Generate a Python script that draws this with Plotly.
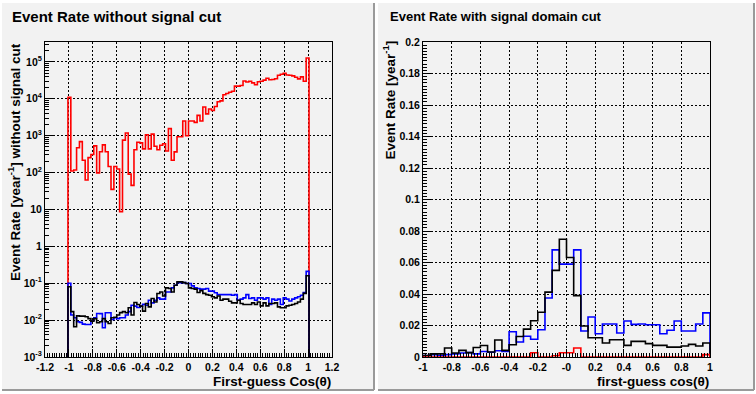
import numpy as np
import plotly.graph_objects as go

# ---------------- data ----------------
# Left panel: 100 bins on [-1.2, 1.2], width 0.024; non-zero bins are 8..91
LEFT_BIN0 = 8
LEFT_NBINS_TOTAL = 100
LEFT_XMIN, LEFT_XMAX = -1.2, 1.2

left_red = [11000, 110, 117, 470, 690, 215, 63, 254, 310, 530, 97, 366, 565, 366, 146, 35,
            146, 125, 8.7, 760, 1180, 91, 45, 414, 664, 637, 440, 1060, 440, 1100, 515, 417,
            550, 605, 385, 1550, 215, 365, 940, 940, 2500, 1000, 2500, 2500, 2300, 3560, 2500,
            6000, 3900, 5300, 4800, 6200, 8300, 8800, 12900, 13900, 15000, 16000, 22000, 22000,
            23000, 30500, 28500, 30000, 27000, 24000, 29000, 30000, 32000, 36000, 33000, 33500,
            35000, 43600, 46400, 49400, 44000, 43600, 41800, 38500, 34700, 39300, 30000, 128000]

left_blue = [0.1, 0.0137, 0.0116, 0.009, 0.0087, 0.0078, 0.0076, 0.0076, 0.0096, 0.0116,
             0.0151, 0.015, 0.0062, 0.0158, 0.0158, 0.0104, 0.0116, 0.011, 0.0116, 0.0116,
             0.0137, 0.017, 0.0254, 0.024, 0.022, 0.024, 0.027, 0.0254, 0.0347, 0.0294,
             0.0347, 0.040, 0.037, 0.037, 0.058, 0.058, 0.075, 0.088, 0.104, 0.104,
             0.104, 0.098, 0.098, 0.085, 0.075, 0.072, 0.069, 0.069, 0.072, 0.061,
             0.061, 0.055, 0.049, 0.049, 0.049, 0.049, 0.049, 0.047, 0.049, 0.0347,
             0.037, 0.040, 0.049, 0.0385, 0.040, 0.0347, 0.040, 0.040, 0.037, 0.040,
             0.0265, 0.037, 0.0347, 0.037, 0.0265, 0.040, 0.037, 0.033, 0.037, 0.040,
             0.043, 0.047, 0.056, 0.21]

left_black = [0.08, 0.017, 0.0066, 0.013, 0.0128, 0.0128, 0.0123, 0.011, 0.0094, 0.011,
              0.0085, 0.009, 0.011, 0.009, 0.0081, 0.0116, 0.012, 0.0137, 0.016, 0.017,
              0.0158, 0.0216, 0.0137, 0.030, 0.0265, 0.024, 0.0175, 0.0282, 0.0229, 0.0385,
              0.031, 0.0525, 0.058, 0.045, 0.075, 0.072, 0.058, 0.088, 0.109, 0.109,
              0.104, 0.098, 0.075, 0.072, 0.069, 0.056, 0.063, 0.053, 0.049, 0.047,
              0.043, 0.040, 0.045, 0.0347, 0.037, 0.037, 0.0326, 0.0294, 0.0294, 0.0347,
              0.0282, 0.0265, 0.0265, 0.0265, 0.0294, 0.0265, 0.031, 0.0244, 0.0294, 0.0244,
              0.0282, 0.0282, 0.0294, 0.0229, 0.0216, 0.0216, 0.0244, 0.0254, 0.0265, 0.0282,
              0.031, 0.037, 0.053, 0.16]

# Right panel: 40 bins on [-1, 1], width 0.05
RIGHT_XMIN, RIGHT_XMAX, RIGHT_NBINS = -1.0, 1.0, 40

right_black = [0.001, 0.002, 0.002, 0.0057, 0.0025, 0.0042, 0.0028, 0.006, 0.0073, 0.0032,
               0.0108, 0.0042, 0.0078, 0.013, 0.0177, 0.023, 0.0284, 0.0412, 0.055, 0.0748,
               0.0632, 0.039, 0.0197, 0.0122, 0.0122, 0.0089, 0.011, 0.011, 0.0074, 0.0099,
               0.0099, 0.0085, 0.0074, 0.0074, 0.0063, 0.0063, 0.007, 0.008, 0.007, 0.0089]

right_blue = [0.001, 0.0015, 0.001, 0.0015, 0.002, 0.0025, 0.0028, 0.002, 0.0035, 0.003,
              0.004, 0.0035, 0.016, 0.0095, 0.0132, 0.0113, 0.0173, 0.0375, 0.068, 0.059,
              0.059, 0.068, 0.0165, 0.0254, 0.0148, 0.021, 0.021, 0.0152, 0.0229, 0.0207,
              0.021, 0.0205, 0.0205, 0.0148, 0.017, 0.0229, 0.0165, 0.0165, 0.021, 0.028]

right_red = [0, 0, 0, 0, 0, 0, 0, 0, 0, 0,
             0, 0, 0, 0, 0, 0.0027, 0, 0, 0.0008, 0.0027,
             0.0027, 0.0057, 0, 0, 0, 0, 0, 0, 0, 0,
             0, 0, 0, 0, 0, 0, 0, 0, 0, 0.0015]

left_xticks = [-1.2, -1.0, -0.8, -0.6, -0.4, -0.2, 0.0, 0.2, 0.4, 0.6, 0.8, 1.0, 1.2]
left_xtick_text = ["-1.2", "-1", "-0.8", "-0.6", "-0.4", "-0.2", "0", "0.2", "0.4", "0.6", "0.8", "1", "1.2"]
left_yticks = [1e-3, 1e-2, 1e-1, 1, 10, 1e2, 1e3, 1e4, 1e5]
left_ytick_text = ["10<sup>-3</sup>", "10<sup>-2</sup>", "10<sup>-1</sup>", "1", "10",
                   "10<sup>2</sup>", "10<sup>3</sup>", "10<sup>4</sup>", "10<sup>5</sup>"]
right_xticks = [-1.0, -0.8, -0.6, -0.4, -0.2, 0.0, 0.2, 0.4, 0.6, 0.8, 1.0]
right_xtick_text = ["-1", "-0.8", "-0.6", "-0.4", "-0.2", "-0", "0.2", "0.4", "0.6", "0.8", "1"]
right_yticks = [0, 0.02, 0.04, 0.06, 0.08, 0.1, 0.12, 0.14, 0.16, 0.18, 0.2]
right_ytick_text = ["0", "0.02", "0.04", "0.06", "0.08", "0.1", "0.12", "0.14", "0.16", "0.18", "0.2"]

title_left = "Event Rate without signal cut"
title_right = "Event Rate with signal domain cut"
ytitle_left = "Event Rate [year<sup>-1</sup>] without signal cut"
ytitle_right = "Event Rate [year<sup>-1</sup>]"
xtitle_left = "First-guess Cos(θ)"
xtitle_right = "first-guess cos(θ)"

# ---------------- helpers ----------------
W, H = 756, 394
FONT = "Liberation Sans"
PAD_BG = "#f2f2f2"


def step_xy(edges, vals, floor):
    vals = np.asarray(vals, dtype=float)
    vals = np.where(vals > 0, vals, floor)
    x = [edges[0]] + list(edges)
    y = [floor] + list(vals) + [floor]
    return x, y


def bold(labels):
    return [f"<b>{t}</b>" for t in labels]


lw = (LEFT_XMAX - LEFT_XMIN) / LEFT_NBINS_TOTAL
left_edges = LEFT_XMIN + lw * np.arange(LEFT_BIN0, LEFT_BIN0 + len(left_red) + 1)
rw = (RIGHT_XMAX - RIGHT_XMIN) / RIGHT_NBINS
right_edges = RIGHT_XMIN + rw * np.arange(RIGHT_NBINS + 1)

fig = go.Figure()
LOGFLOOR = 1e-6

for vals, col in [(left_red, "#ff0000"), (left_blue, "#0000ff"), (left_black, "#000000")]:
    x, y = step_xy(left_edges, vals, LOGFLOOR)
    fig.add_trace(go.Scatter(x=x, y=y, mode="lines", line=dict(color=col, width=1.6, shape="hv"),
                             xaxis="x", yaxis="y", showlegend=False, hoverinfo="skip"))

for vals, col in [(right_blue, "#0000ff"), (right_black, "#000000"), (right_red, "#ff0000")]:
    x, y = step_xy(right_edges, vals, 0.0)
    fig.add_trace(go.Scatter(x=x, y=y, mode="lines", line=dict(color=col, width=1.6, shape="hv"),
                             xaxis="x2", yaxis="y2", showlegend=False, hoverinfo="skip"))


def px_x(v):
    return v / W


def px_y(v):
    return 1 - v / H


tickfont = dict(family=FONT, size=10.5, color="black")
common = dict(showline=True, linecolor="black", linewidth=1, mirror=True, ticks="inside",
              tickcolor="black", ticklen=8, tickwidth=1, tickfont=tickfont, zeroline=False,
              showgrid=True, gridcolor="black", griddash="2px,2px", gridwidth=1, tickmode="array",
              automargin=False)

log_minor = [m * 10.0 ** e for e in range(-3, 6) for m in range(2, 10)]

fig.update_layout(
    width=W, height=H, autosize=False,
    margin=dict(l=0, r=0, t=0, b=0, pad=0),
    paper_bgcolor="white", plot_bgcolor=PAD_BG,
    xaxis=dict(domain=[px_x(45), px_x(332)], range=[LEFT_XMIN, LEFT_XMAX], anchor="y",
               tickvals=left_xticks, ticktext=bold(left_xtick_text),
               minor=dict(dtick=0.02, tick0=-1.2, ticks="inside", ticklen=4, tickcolor="black", showgrid=False),
               **common),
    yaxis=dict(domain=[px_y(357), px_y(42)], type="log", range=[-3, 5.54], anchor="x",
               tickvals=left_yticks, ticktext=bold(left_ytick_text),
               minor=dict(tickmode="array", tickvals=log_minor, ticks="inside", ticklen=4,
                          tickcolor="black", showgrid=False),
               **common),
    xaxis2=dict(domain=[px_x(423), px_x(710)], range=[RIGHT_XMIN, RIGHT_XMAX], anchor="y2",
                tickvals=right_xticks, ticktext=bold(right_xtick_text),
                minor=dict(dtick=0.02, tick0=-1.0, ticks="inside", ticklen=4, tickcolor="black", showgrid=False),
                **common),
    yaxis2=dict(domain=[px_y(357), px_y(42)], range=[0, 0.2], anchor="x2",
                tickvals=right_yticks, ticktext=bold(right_ytick_text),
                minor=dict(dtick=0.002, tick0=0, ticks="inside", ticklen=4, tickcolor="black", showgrid=False),
                **common),
)

# pads
shapes = []
for (x0, x1) in [(2, 374), (378, 754)]:
    shapes.append(dict(type="rect", xref="paper", yref="paper", x0=px_x(x0), x1=px_x(x1),
                       y0=px_y(390), y1=px_y(3), fillcolor=PAD_BG, line=dict(width=0), layer="below"))
    shapes.append(dict(type="line", xref="paper", yref="paper", x0=px_x(x1), x1=px_x(x1),
                       y0=px_y(390), y1=px_y(3), line=dict(color="#9a9a9a", width=2), layer="below"))
    shapes.append(dict(type="line", xref="paper", yref="paper", x0=px_x(x0), x1=px_x(x1),
                       y0=px_y(390), y1=px_y(390), line=dict(color="#9a9a9a", width=2), layer="below"))
fig.update_layout(shapes=shapes)

ann = []
ann.append(dict(text=f"<b>{title_left}</b>", x=px_x(10), y=px_y(16), xanchor="left", yanchor="middle",
                font=dict(family=FONT, size=15, color="black")))
ann.append(dict(text=f"<b>{title_right}</b>", x=px_x(388), y=px_y(17), xanchor="left", yanchor="middle",
                font=dict(family=FONT, size=13, color="black")))
ann.append(dict(text=f"<b>{ytitle_left}</b>", x=px_x(14), y=px_y(41), xanchor="center", yanchor="top",
                textangle=-90, font=dict(family=FONT, size=13.5, color="black")))
ann.append(dict(text=f"<b>{ytitle_right}</b>", x=px_x(389), y=px_y(39), xanchor="center", yanchor="top",
                textangle=-90, font=dict(family=FONT, size=13.5, color="black")))
ann.append(dict(text=f"<b>{xtitle_left}</b>", x=px_x(333), y=px_y(381), xanchor="right", yanchor="middle",
                font=dict(family=FONT, size=13.5, color="black")))
ann.append(dict(text=f"<b>{xtitle_right}</b>", x=px_x(711), y=px_y(381), xanchor="right", yanchor="middle",
                font=dict(family=FONT, size=13.5, color="black")))
for a in ann:
    a.update(xref="paper", yref="paper", showarrow=False)
fig.update_layout(annotations=ann)

fig.write_html("out.html", config={"displayModeBar": False},
               post_script="document.body.style.margin='0px';document.body.style.padding='0px';")
